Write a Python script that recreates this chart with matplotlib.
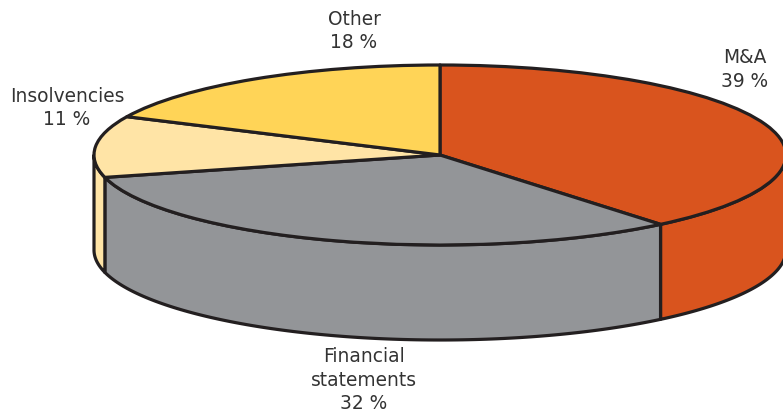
import numpy as np
import matplotlib
matplotlib.use("Agg")
import matplotlib.pyplot as plt

categories = ["M&A", "Financial\nstatements", "Insolvencies", "Other"]
values = [39, 32, 11, 18]
colors = ["#D9541E", "#939598", "#FFE4A6", "#FFD457"]

W, H = 783, 413
CX, CY, RX, RY, DEPTH = 440, 155, 346, 90, 95
EDGE = "#231F20"
LW = 2.3

fig = plt.figure(figsize=(W / 100, H / 100), dpi=100)
ax = fig.add_axes([0, 0, 1, 1])

ax.pie(values, colors=colors, startangle=90, counterclock=False, radius=1,
       wedgeprops=dict(edgecolor=EDGE, linewidth=LW, joinstyle="round", zorder=3))

# side wall
d = DEPTH / RY
angles = 90 - np.cumsum([0] + values) / sum(values) * 360
for i, col in enumerate(colors):
    a1, a2 = angles[i], angles[i + 1]
    for off in (0, -360):
        lo, hi = max(a2 + off, -180), min(a1 + off, 0)
        if lo >= hi:
            continue
        t = np.radians(np.linspace(hi, lo, 120))
        xs = np.r_[np.cos(t), np.cos(t[::-1])]
        ys = np.r_[np.sin(t), np.sin(t[::-1]) - d]
        ax.fill(xs, ys, facecolor=col, edgecolor=EDGE, linewidth=LW, zorder=2,
                joinstyle="round")

ax.set_aspect("auto")
ax.set_xlim(-CX / RX, (W - CX) / RX)
ax.set_ylim(-(H - CY) / RY, CY / RY)
ax.axis("off")

def px(x, y):
    return (x - CX) / RX, (CY - y) / RY

labels = [f"{c}\n{v} %" for c, v in zip(categories, values)]
positions = [(745, 69.5), (364, 380), (67, 108), (354, 31)]
for lab, (x, y) in zip(labels, positions):
    ax.text(*px(x, y), lab, ha="center", va="center", fontsize=13.4,
            color="#333333", linespacing=1.3, family="DejaVu Sans")

fig.savefig("out.png", dpi=100)
